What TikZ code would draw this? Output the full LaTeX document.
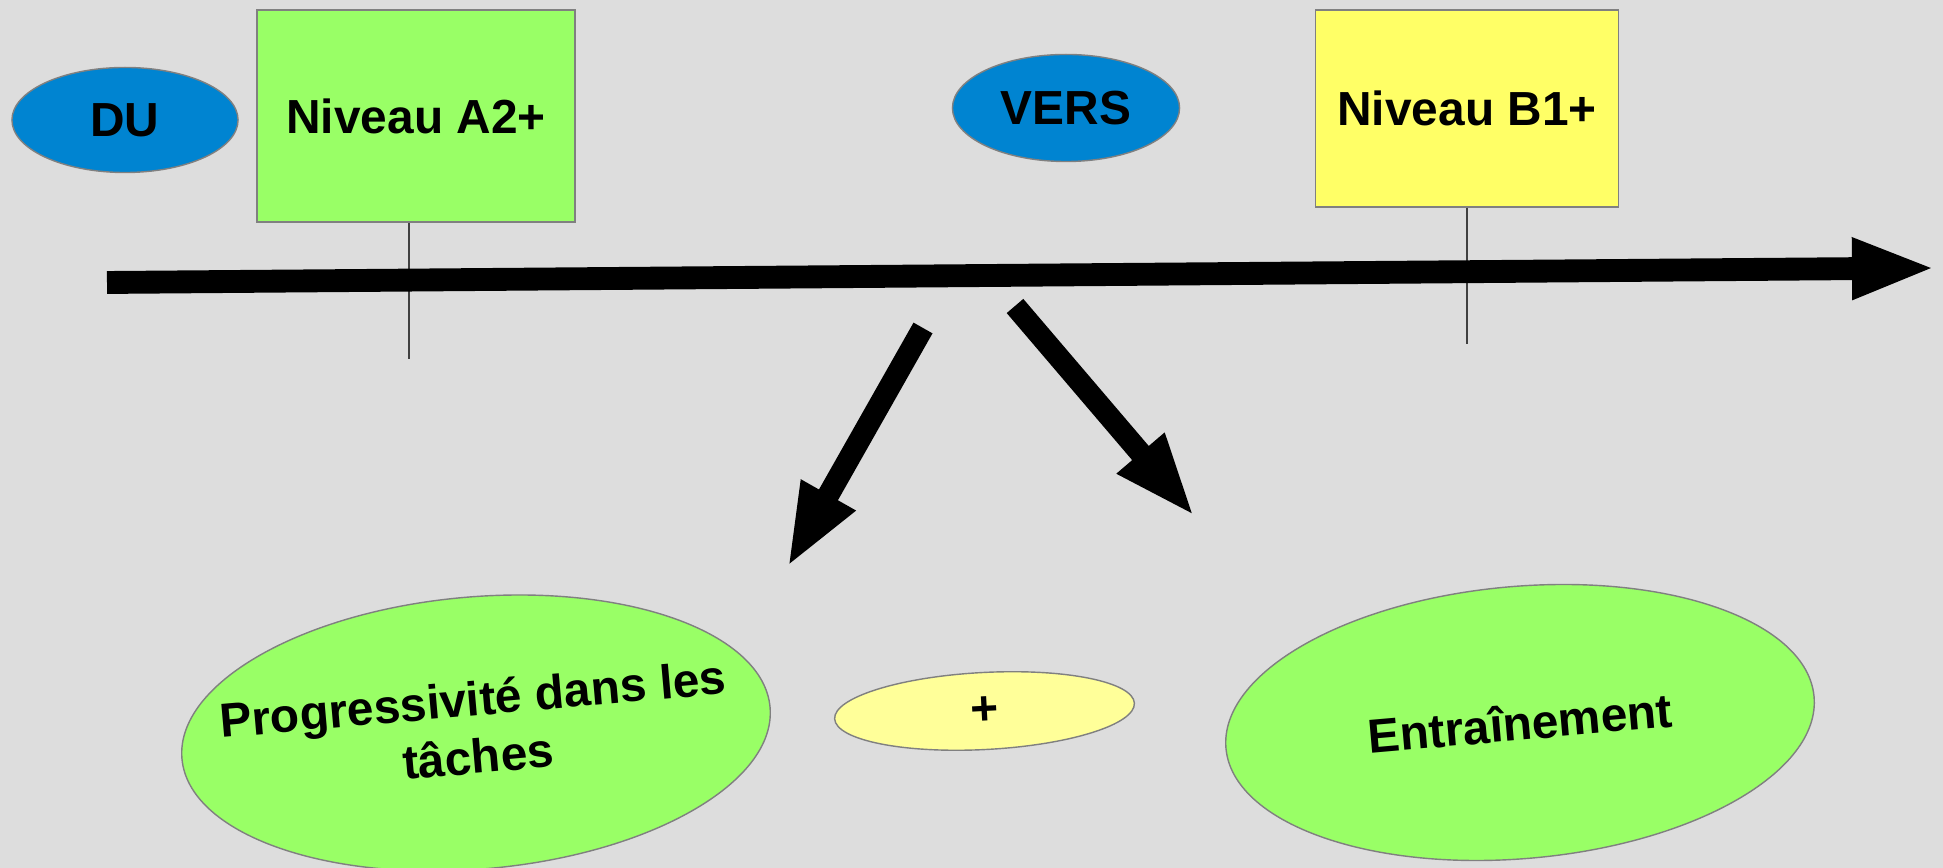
\documentclass[tikz,border=0pt]{standalone}
\usepackage{fontspec}
\setmainfont{Liberation Sans}
\usetikzlibrary{shapes.geometric,arrows.meta}
\definecolor{bggrey}{HTML}{DDDDDD}
\definecolor{levelgreen}{HTML}{99FF66}
\definecolor{levelyellow}{HTML}{FFFF66}
\definecolor{pluscream}{HTML}{FFFF99}
\definecolor{tagblue}{HTML}{0084D1}
\definecolor{rim}{HTML}{808080}

\begin{document}
\begin{tikzpicture}[x=0.01cm,y=-0.01cm,
    every node/.style={font=\fontsize{13.6}{16.4}\selectfont\bfseries,inner sep=0pt},
    level/.style={rectangle,draw=rim,line width=0.4pt},
    bubble/.style={ellipse,draw=rim,line width=0.4pt},
    tick/.style={draw=black!75,line width=0.35pt},
    timeline/.style={line width=6.5pt,-{Triangle[length=23.9pt,width=15.9pt]}},
    branch/.style={line width=6.2pt,-{Triangle[length=23.9pt,width=16pt]}}]

    \fill[bggrey] (0,0) rectangle (1943,868);
    \useasboundingbox (0,0) rectangle (1943,868);

    \node[bubble,fill=tagblue,minimum width=2.26cm,minimum height=1.05cm] (du) at (125,120) {DU};
    \node[level,fill=levelgreen,minimum width=3.18cm,minimum height=2.12cm] (a2) at (416,116) {Niveau A2+};
    \node[bubble,fill=tagblue,minimum width=2.27cm,minimum height=1.07cm] (vers) at (1066,108) {VERS};
    \node[level,fill=levelyellow,minimum width=3.03cm,minimum height=1.97cm] (b1) at (1467,108.5) {Niveau B1+};

    \draw[tick] ([xshift=-0.07cm]a2.south) -- ++(0,136);
    \draw[tick] (b1.south) -- ++(0,136);

    \coordinate (start) at (107,282.5);
    \coordinate (end) at (1936,268);
    \draw[timeline] (start) -- (end);

    \coordinate (lefttail) at (923,328);
    \coordinate (lefttip) at (787,568);
    \coordinate (righttail) at (1015,306);
    \coordinate (righttip) at (1195,517);
    \draw[branch] (lefttail) -- (lefttip);
    \draw[branch] (righttail) -- (righttip);

    \node[bubble,fill=levelgreen,rotate=5,minimum width=5.9cm,minimum height=2.72cm] (tasks) at (476,733)
        {\makebox[0pt]{\begin{tabular}{@{}c@{}}Progressivité dans les\\tâches\end{tabular}}};
    \node[bubble,fill=pluscream,rotate=3,minimum width=3.0cm,minimum height=0.77cm] (plus) at (984.5,711) {+};
    \node[bubble,fill=levelgreen,rotate=5,minimum width=5.9cm,minimum height=2.72cm] (training) at (1520,722.5) {Entraînement};
\end{tikzpicture}
\end{document}
